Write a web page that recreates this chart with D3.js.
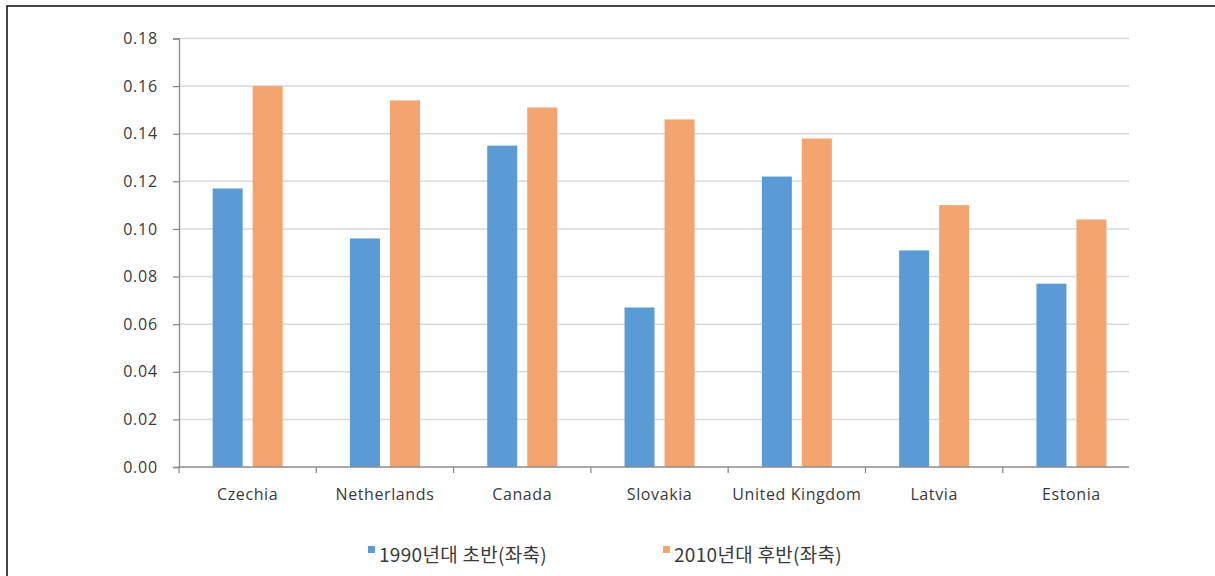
<!DOCTYPE html>
<html>
<head>
<meta charset="utf-8">
<script src="https://cdn.jsdelivr.net/npm/d3@7"></script>
<style>
  html, body { margin: 0; padding: 0; background: #fff; }
  svg { display: block; }
  text { font-family: "Noto Sans CJK KR", "Open Sans", sans-serif; fill: #3a3a3a; }
</style>
</head>
<body>
<svg id="chart" width="1215" height="576"></svg>
<script>
// Countries along the horizontal axis
const categories = ["Czechia", "Netherlands", "Canada", "Slovakia", "United Kingdom", "Latvia", "Estonia"];
// Series names (legend) and their values
const seriesNames = ["1990년대 초반(좌축)", "2010년대 후반(좌축)"];
const early1990s = [0.117, 0.096, 0.135, 0.067, 0.122, 0.091, 0.077];
const late2010s = [0.160, 0.154, 0.151, 0.146, 0.138, 0.110, 0.104];
const yTicks = [0, 0.02, 0.04, 0.06, 0.08, 0.10, 0.12, 0.14, 0.16, 0.18];
const colors = ["#5b9bd5", "#f3a46f"];

const seriesValues = [early1990s, late2010s];
const rows = categories.map((c, i) => ({ category: c, values: seriesValues.map(s => s[i]) }));

const svg = d3.select("#chart");

// outer frame
svg.append("rect")
  .attr("x", 7).attr("y", 6)
  .attr("width", 1220).attr("height", 600)
  .attr("fill", "none").attr("stroke", "#1a1a1a").attr("stroke-width", 1.6);

const plotLeft = 179, plotRight = 1129, plotTop = 38.5, plotBottom = 467;
const bandStep = 137.3;

const y = d3.scaleLinear().domain([0, 0.18]).range([plotBottom, plotTop]);
const x0 = d3.scaleBand().domain(categories)
  .range([plotLeft, plotLeft + bandStep * categories.length])
  .paddingInner(0.49).paddingOuter(0.245);
const x1 = d3.scaleBand().domain(d3.range(seriesNames.length))
  .range([0, x0.bandwidth()]).paddingInner(0.25);

// gridlines
svg.append("g").selectAll("line").data(yTicks.filter(d => d > 0)).join("line")
  .attr("x1", plotLeft).attr("x2", plotRight)
  .attr("y1", d => y(d)).attr("y2", d => y(d))
  .attr("stroke", "#d9d9d9").attr("stroke-width", 1.5);

// y axis
const yAxis = svg.append("g").attr("transform", `translate(${plotLeft},0)`)
  .call(d3.axisLeft(y).tickValues(yTicks).tickFormat(d3.format(".2f")).tickSize(6).tickPadding(15));
yAxis.select(".domain").attr("stroke", "#8c8c8c").attr("stroke-width", 1.3);
yAxis.selectAll(".tick line").attr("stroke", "#8c8c8c").attr("stroke-width", 1.3);
yAxis.selectAll(".tick text")
  .attr("fill", "#3a3a3a")
  .style("font-size", "16px")
  .style("letter-spacing", "0.8px")
  .style("font-family", '"Open Sans", sans-serif');

// bars
const groups = svg.append("g").selectAll("g").data(rows).join("g")
  .attr("transform", d => `translate(${x0(d.category)},0)`);
groups.selectAll("rect").data(d => d.values.map((v, i) => ({ v, i }))).join("rect")
  .attr("x", d => x1(d.i))
  .attr("width", x1.bandwidth())
  .attr("y", d => y(d.v))
  .attr("height", d => y(0) - y(d.v))
  .attr("fill", d => colors[d.i]);

// x axis line and category separators
svg.append("line")
  .attr("x1", plotLeft).attr("x2", plotRight)
  .attr("y1", plotBottom).attr("y2", plotBottom)
  .attr("stroke", "#8c8c8c").attr("stroke-width", 1.3);
svg.append("g").selectAll("line").data(categories).join("line")
  .attr("x1", d => x0(d) - x0.step() * x0.paddingOuter())
  .attr("x2", d => x0(d) - x0.step() * x0.paddingOuter())
  .attr("y1", plotBottom).attr("y2", plotBottom + 6)
  .attr("stroke", "#8c8c8c").attr("stroke-width", 1.3);

// category labels
svg.append("g").selectAll("text").data(categories).join("text")
  .attr("x", d => x0(d) + x0.bandwidth() / 2)
  .attr("y", 500)
  .attr("text-anchor", "middle")
  .style("font-size", "16px")
  .style("letter-spacing", "0.6px")
  .style("font-family", '"Open Sans", sans-serif')
  .text(d => d);

// legend
const legendX = [368, 663];
const legend = svg.append("g").selectAll("g").data(seriesNames).join("g")
  .attr("transform", (d, i) => `translate(${legendX[i]},0)`);
legend.append("rect")
  .attr("x", 0).attr("y", 546).attr("width", 7).attr("height", 7)
  .attr("fill", (d, i) => colors[i]);
legend.append("text")
  .attr("x", 11).attr("y", 562)
  .style("font-size", "19px")
  .style("letter-spacing", "0.3px")
  .text(d => d);
</script>
</body>
</html>
